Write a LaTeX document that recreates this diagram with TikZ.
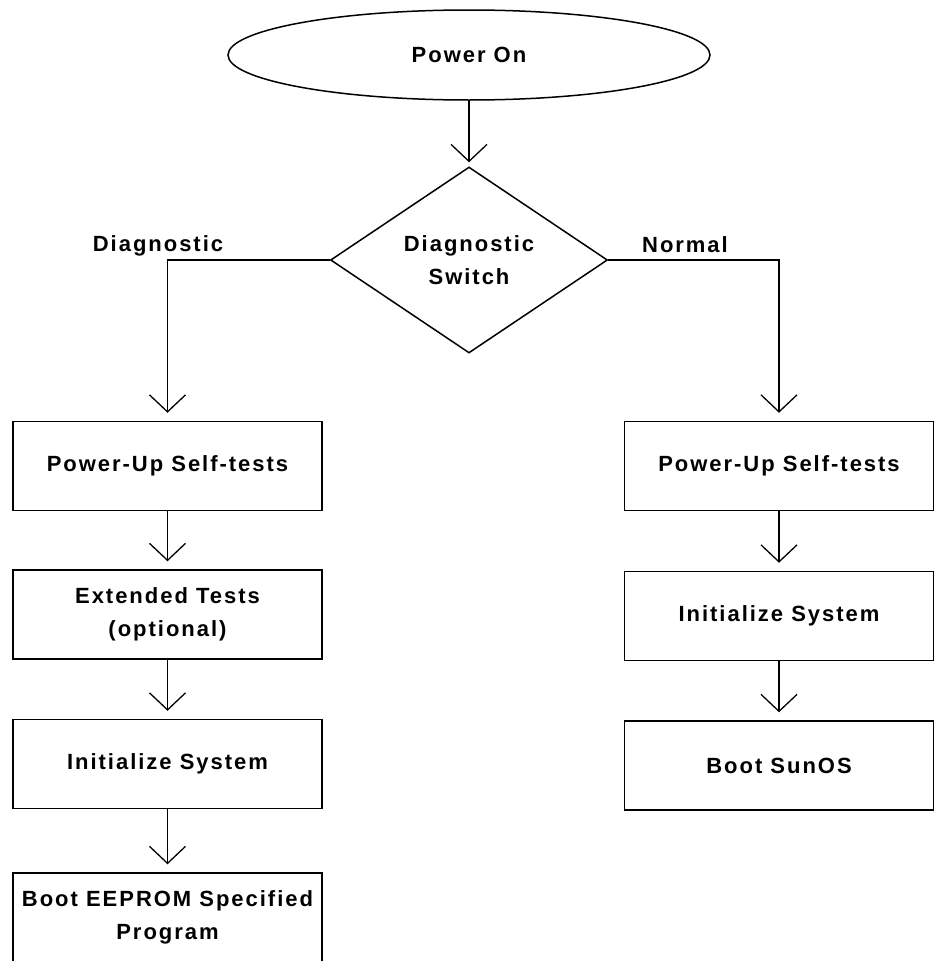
\documentclass[tikz,border=0pt]{standalone}
\usepackage{fontspec}
\setmainfont{Liberation Sans}[LetterSpace=9]
\usetikzlibrary{shapes.geometric,arrows.meta}
\begin{document}
\begin{tikzpicture}[x=1pt,y=-1pt,
  every node/.style={font=\bfseries\fontsize{22}{33}\selectfont, align=center},
  box/.style={draw, line width=1.5pt, minimum width=309pt, minimum height=89pt, inner sep=0pt},
  conn/.style={line width=1.3pt, -{Straight Barb[length=17pt,width=36pt,line width=1.3pt]}, shorten >=8pt},
  lbl/.style={inner sep=0pt}]
\useasboundingbox (0,0) rectangle (938,961);
\clip (0,0) rectangle (938,961);
\node[ellipse, draw, line width=1.5pt, minimum width=482pt, minimum height=90pt, inner sep=0pt] (on) at (469,55) {Power On};
\node[diamond, draw, line width=1.5pt, aspect=1.49, minimum width=277pt, minimum height=186pt, inner sep=0pt] (sw) at (469,260) {Diagnostic\\Switch};
% left column
\node[box] (l1) at (167.5,466) {Power-Up Self-tests};
\node[box] (l2) at (167.5,614.5) {Extended Tests\\(optional)};
\node[box] (l3) at (167.5,764) {Initialize System};
\node[box] (l4) at (167.5,917.5) {Boot EEPROM Specified\\Program};
% right column
\node[box] (r1) at (779,466) {Power-Up Self-tests};
\node[box] (r2) at (779,616) {Initialize System};
\node[box] (r3) at (779,765.5) {Boot SunOS};
% connectors
\draw[conn, shorten >=4pt] (on.south) -- (sw.north);
\draw[conn] (sw.west) -| (l1.north);
\draw[conn] (sw.east) -| (r1.north);
\draw[conn] (l1) -- (l2);
\draw[conn] (l2) -- (l3);
\draw[conn] (l3) -- (l4);
\draw[conn] (r1) -- (r2);
\draw[conn] (r2) -- (r3);
% labels
\node[lbl] (dl) at (158,246) {Diagnostic};
\node[lbl] (nl) at (685,245) {Normal};
\end{tikzpicture}
\end{document}
